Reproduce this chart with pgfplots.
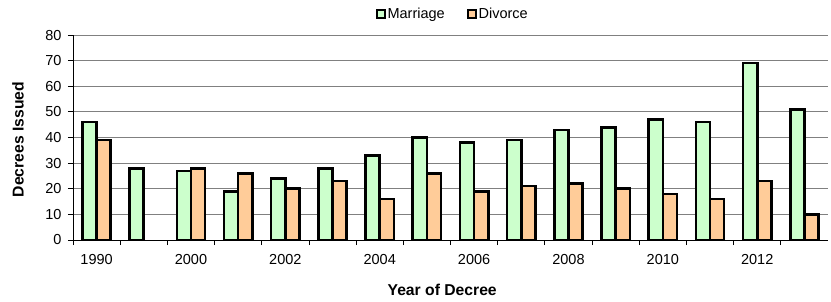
\documentclass[border=0pt]{standalone}
\usepackage{fontspec}
\setmainfont{Liberation Sans}
\usepackage{pgfplots}
\pgfplotsset{compat=1.18}
\definecolor{mgreen}{HTML}{CCFFCC}
\definecolor{dorange}{HTML}{FFCC99}
\definecolor{gridgray}{HTML}{808080}
\begin{document}
\begin{tikzpicture}[font=\fontsize{14.5}{17}\selectfont]
\begin{axis}[
  scale only axis, width=755pt, height=205pt,
  at={(0,0)}, anchor=south west,
  ymin=0, ymax=80, ytick={0,10,...,80},
  xmin=-0.5, xmax=15.5,
  xtick={0,...,15},
  xticklabels={1990,,2000,,2002,,2004,,2006,,2008,,2010,,2012,},
  xticklabel style={yshift=-6pt},
  yticklabel style={xshift=-3pt},
  major x tick style={draw=none},
  minor xtick={-0.5,0.5,...,14.5},
  minor tick length=5pt, major tick length=5pt,
  tick align=outside,
  tick style={black, line width=0.8pt},
  axis x line*=bottom, axis y line*=left,
  axis line style={black, line width=0.9pt},
  ymajorgrids, grid style={gridgray, line width=0.9pt},
  ybar=0pt, bar width=0.3,
  /pgf/number format/assume math mode=true,
  xlabel={Year of Decree}, ylabel={Decrees Issued},
  xlabel style={font=\bfseries\fontsize{15.7}{18}\selectfont, at={(axis description cs:0.489,-0.244)}, anchor=center},
  ylabel style={font=\bfseries\fontsize{15.7}{18}\selectfont, at={(axis description cs:-0.0728,0.49)}, anchor=center},
  legend columns=2,
  legend style={at={(axis description cs:0.503,1)}, anchor=center, yshift=21pt, draw=none, fill=none,
    /tikz/every even column/.append style={column sep=20pt}},
  legend image code/.code={\draw[#1,line width=1.8pt] (0pt,-4pt) rectangle (8pt,4pt);},
]
\addplot[fill=mgreen, draw=black, line width=2.6pt] coordinates {
 (0,46) (1,28) (2,27) (3,19) (4,24) (5,28) (6,33) (7,40) (8,38) (9,39) (10,43) (11,44) (12,47) (13,46) (14,69) (15,51)};
\addplot[fill=dorange, draw=black, line width=2.6pt] coordinates {
 (0,39) (2,28) (3,26) (4,20) (5,23) (6,16) (7,26) (8,19) (9,21) (10,22) (11,20) (12,18) (13,16) (14,23) (15,10)};
\legend{Marriage,Divorce}
\end{axis}
\pgfresetboundingbox
\path[use as bounding box] (-73pt,-61pt) rectangle (758pt,240pt);
\end{tikzpicture}
\end{document}
